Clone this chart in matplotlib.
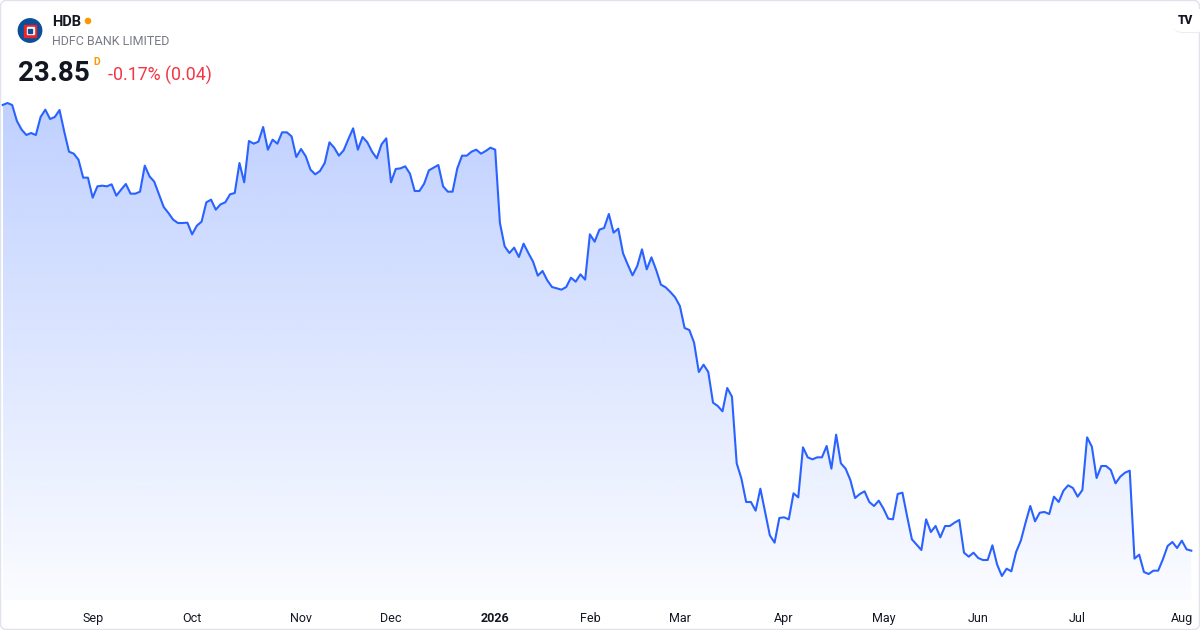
"""HDB (HDFC Bank ADR) one-year area chart, TradingView snapshot style."""

import matplotlib

matplotlib.use("Agg")
import matplotlib.pyplot as plt
import numpy as np
import pandas as pd
from matplotlib.colors import to_rgb
from matplotlib.patches import Circle, FancyBboxPatch, PathPatch, Rectangle

plt.rcParams["font.family"] = ["Roboto", "DejaVu Sans"]

# --- data -----------------------------------------------------------------
symbol = "HDB"
company = "HDFC BANK LIMITED"
last_price = "23.85"
change_text = "-0.17% (0.04)"

holidays = [
    "2025-09-01", "2025-11-27", "2025-12-25", "2026-01-01", "2026-01-19",
    "2026-02-16", "2026-04-03", "2026-05-25", "2026-06-19", "2026-07-03",
]
dates = pd.bdate_range("2025-08-05", "2026-08-05", freq="C", holidays=holidays)

closes = [
    37.22, 37.28, 37.22, 36.74, 36.48, 36.32, 36.38, 36.32, 36.86, 37.08,
    36.80, 36.86, 37.07, 36.42, 35.82, 35.76, 35.58, 35.04, 35.04, 34.44,
    34.78, 34.80, 34.78, 34.84, 34.50, 34.68, 34.85, 34.56, 34.56, 34.62,
    35.40, 35.08, 34.92, 34.54, 34.16, 33.98, 33.78, 33.68, 33.68, 33.69,
    33.34, 33.60, 33.72, 34.30, 34.38, 34.08, 34.24, 34.30, 34.54, 34.58,
    35.48, 34.90, 36.14, 36.06, 36.12, 36.56, 35.88, 36.18, 36.06, 36.40,
    36.40, 36.28, 35.66, 35.90, 35.68, 35.28, 35.14, 35.24, 35.48, 36.10,
    35.94, 35.70, 35.86, 36.20, 36.52, 35.88, 36.26, 36.10, 35.82, 35.62,
    36.04, 36.22, 34.90, 35.30, 35.32, 35.38, 35.16, 34.64, 34.64, 34.86,
    35.26, 35.34, 35.42, 34.78, 34.62, 34.62, 35.32, 35.70, 35.70, 35.82,
    35.88, 35.76, 35.84, 35.94, 35.88, 33.68, 32.98, 32.78, 32.94, 32.66,
    33.06, 32.78, 32.52, 32.10, 32.24, 31.96, 31.76, 31.72, 31.68, 31.76,
    32.04, 31.92, 32.14, 31.98, 33.34, 33.12, 33.48, 33.53, 33.95, 33.39,
    33.51, 32.77, 32.43, 32.11, 32.39, 32.89, 32.29, 32.65, 32.27, 31.83,
    31.75, 31.61, 31.45, 31.19, 30.53, 30.47, 30.09, 29.21, 29.43, 29.21,
    28.29, 28.19, 28.03, 28.73, 28.47, 26.47, 26.01, 25.31, 25.31, 25.05,
    25.71, 25.01, 24.31, 24.09, 24.83, 24.85, 24.79, 25.57, 25.45, 26.95,
    26.65, 26.59, 26.65, 26.65, 26.99, 26.31, 27.33, 26.47, 26.31, 25.97,
    25.43, 25.55, 25.63, 25.31, 25.19, 25.35, 25.11, 24.81, 24.79, 25.55,
    25.59, 24.87, 24.19, 24.03, 23.87, 24.79, 24.41, 24.59, 24.25, 24.59,
    24.59, 24.69, 24.77, 23.79, 23.67, 23.79, 23.63, 23.57, 23.57, 24.01,
    23.43, 23.09, 23.31, 23.23, 23.81, 24.15, 24.69, 25.19, 24.73, 24.99,
    25.01, 24.95, 25.47, 25.31, 25.65, 25.81, 25.73, 25.47, 25.67, 27.25,
    26.97, 26.03, 26.39, 26.39, 26.27, 25.87, 26.07, 26.19, 26.25, 23.61,
    23.73, 23.21, 23.15, 23.25, 23.25, 23.59, 23.99, 24.11, 23.93, 24.15,
    23.89, 23.85,
]

LINE = "#2962ff"
TEXT = "#131722"
GREY = "#787b86"
RED = "#f23645"
ORANGE = "#ff9800"

W, H = 1200, 630
y_low, y_high = 22.37, 40.37

x = np.arange(len(closes))
y = np.array(closes)

fig = plt.figure(figsize=(W / 100, H / 100), dpi=100)
fig.patch.set_facecolor("white")

# --- price area -----------------------------------------------------------
ax = fig.add_axes([0, 30 / H, 1, 600 / H])
ax.set_facecolor("none")
for s in ax.spines.values():
    s.set_visible(False)

# vertical gradient under the line, clipped to the area polygon
grad = np.zeros((256, 1, 4))
grad[..., :3] = to_rgb(LINE)
grad[..., 3] = np.linspace(0.02, 0.30, 256)[:, None]
im = ax.imshow(grad, extent=[x[0], x[-1], y_low, 37.4], origin="lower",
               aspect="auto", zorder=1, interpolation="bilinear")
area = ax.fill_between(x, y, y_low, facecolor="none", edgecolor="none")
clip = PathPatch(area.get_paths()[0], transform=ax.transData,
                 facecolor="none", edgecolor="none")
ax.add_patch(clip)
im.set_clip_path(clip)

ax.plot(x, y, color=LINE, lw=1.5, zorder=3, solid_joinstyle="round")

step = (1191.3 - 2.7) / (len(x) - 1)
ax.set_xlim(-2.7 / step, (W - 2.7) / step)
ax.set_ylim(y_low, y_high)
ax.set_yticks([])

month_starts = [i for i in range(1, len(dates)) if dates[i].month != dates[i - 1].month]
month_labels = [str(dates[i].year) if dates[i].month == 1 else dates[i].strftime("%b")
                for i in month_starts]
ax.set_xticks(month_starts)
ax.set_xticklabels(month_labels, fontsize=9, color=TEXT)
for lbl in ax.get_xticklabels():
    if lbl.get_text().isdigit():
        lbl.set_fontweight("bold")
ax.tick_params(axis="x", length=0, pad=8.5)

# --- header / decorations (pixel coordinates) -----------------------------
ov = fig.add_axes([0, 0, 1, 1], zorder=5)
ov.set_xlim(0, W)
ov.set_ylim(H, 0)
ov.axis("off")
ov.patch.set_alpha(0)

ov.add_patch(FancyBboxPatch((0.5, 0.5), W - 1, H - 1,
                            boxstyle="round,pad=0,rounding_size=6",
                            facecolor="none", edgecolor="#e0e3eb", lw=1))

# bank logo
ov.add_patch(Circle((30, 30.5), 11.7, color="#0b4f98"))
ov.add_patch(Rectangle((24.3, 24.5), 12, 12, color="#ed232a"))
ov.add_patch(Rectangle((26.6, 26.8), 7.4, 7.4, color="white"))
ov.add_patch(Rectangle((28.3, 28.5), 4, 4, color="#0b4f98"))

ov.text(52, 26, symbol, fontsize=10.5, fontweight="bold", color=TEXT, va="baseline")
ov.add_patch(Circle((88, 21), 2.6, color=ORANGE))
ov.text(52, 45, company, fontsize=9, color=GREY, va="baseline")
ov.text(18, 81, last_price, fontsize=20, fontweight="bold", color=TEXT, va="baseline")
ov.text(93, 65, "D", fontsize=7.5, fontweight="bold", color=ORANGE, va="baseline")
ov.text(108, 80.5, change_text, fontsize=12.8, color=RED, va="baseline")

# TradingView badge
ov.add_patch(FancyBboxPatch((1172, 10), 36, 23, boxstyle="round,pad=0,rounding_size=11",
                            facecolor="#ececf0", edgecolor="none"))
ov.add_patch(FancyBboxPatch((1171.5, 9), 36, 23, boxstyle="round,pad=0,rounding_size=11",
                            facecolor="white", edgecolor="none"))
ov.text(1185, 21, "TV", fontsize=8.5, fontweight="heavy", color=TEXT,
        ha="center", va="center")

fig.savefig("out.png", dpi=100, facecolor="white")
